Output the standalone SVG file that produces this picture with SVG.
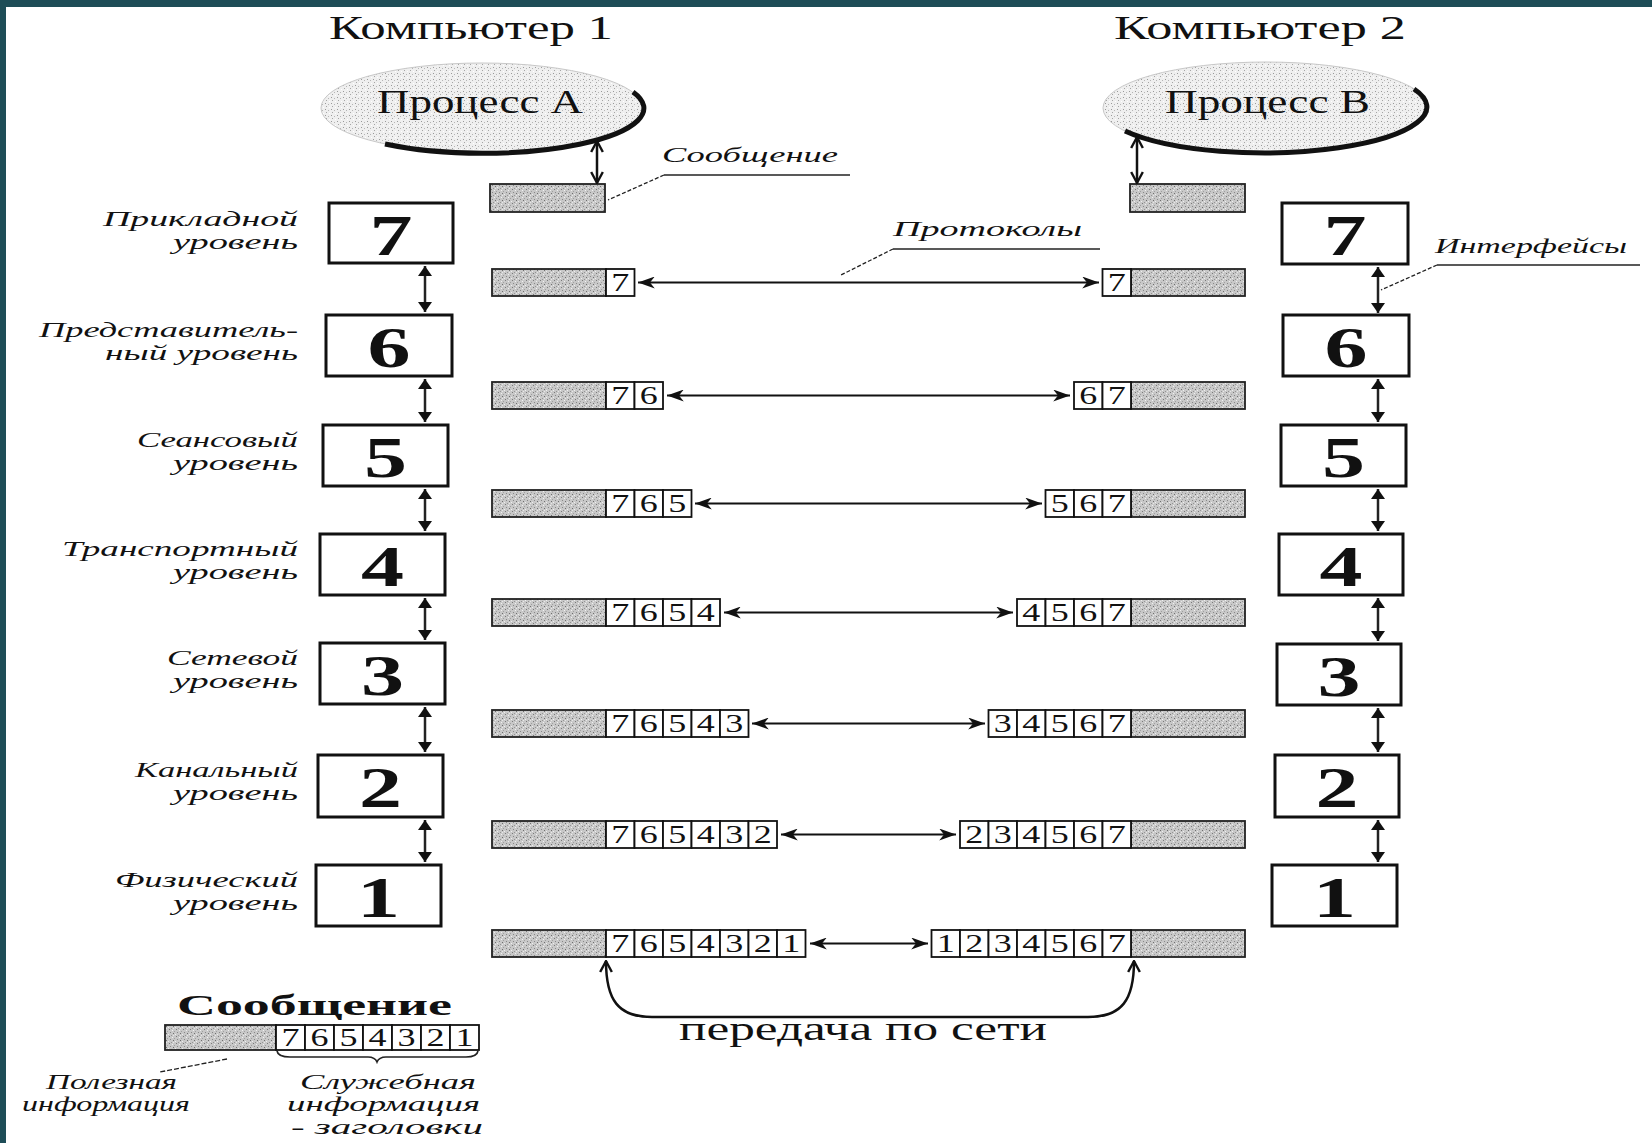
<svg xmlns="http://www.w3.org/2000/svg" width="1652" height="1143" viewBox="0 0 1652 1143">
<defs>
<pattern id="stip" width="7" height="7" patternUnits="userSpaceOnUse">
<rect width="7" height="7" fill="#c8c8c8"/>
<rect x="1" y="0" width="1" height="1" fill="#7a7a7a"/>
<rect x="4" y="1" width="1" height="1" fill="#f0f0f0"/>
<rect x="2" y="3" width="1" height="1" fill="#888"/>
<rect x="5" y="4" width="1" height="1" fill="#6e6e6e"/>
<rect x="0" y="5" width="1" height="1" fill="#eee"/>
<rect x="3" y="6" width="1" height="1" fill="#959595"/>
<rect x="6" y="2" width="1" height="1" fill="#a0a0a0"/>
<rect x="5" y="6" width="1" height="1" fill="#e8e8e8"/>
</pattern>
<pattern id="stip2" width="6" height="6" patternUnits="userSpaceOnUse">
<rect width="6" height="6" fill="#efefef"/>
<rect x="1" y="1" width="1" height="1" fill="#9a9a9a"/>
<rect x="4" y="2" width="1" height="1" fill="#b5b5b5"/>
<rect x="2" y="4" width="1" height="1" fill="#a5a5a5"/>
<rect x="5" y="5" width="1" height="1" fill="#fff"/>
</pattern>
<marker id="ah" viewBox="0 0 14 10" markerWidth="17" markerHeight="12" refX="14" refY="5" orient="auto-start-reverse" markerUnits="userSpaceOnUse">
<path d="M0,0 L14,5 L0,10 L4,5 z" fill="#111"/>
</marker>
<marker id="vh" viewBox="0 0 10 10" markerWidth="10" markerHeight="14" refX="10" refY="5" orient="auto-start-reverse" markerUnits="userSpaceOnUse" preserveAspectRatio="none">
<path d="M0,0 L10,5 L0,10 z" fill="#111"/>
</marker>
<marker id="oh" viewBox="-1 -1 13 12" markerWidth="13" markerHeight="14" refX="11" refY="5" orient="auto-start-reverse" markerUnits="userSpaceOnUse" preserveAspectRatio="none">
<path d="M0,0 L11,5 L0,10" fill="none" stroke="#111" stroke-width="2"/>
</marker>
</defs>
<style>
.box{fill:#fff;stroke:#111;stroke-width:3}
.big{font-family:"Liberation Serif",serif;font-weight:bold;font-size:56px;fill:#111}
.lbl{font-family:"Liberation Serif",serif;font-style:italic;font-size:22px;fill:#111}
.title{font-family:"Liberation Serif",serif;font-size:33px;fill:#111}
.data{fill:url(#stip);stroke:#222;stroke-width:1.8}
.cell{fill:#fff;stroke:#111;stroke-width:1.8}
.cd{font-family:"Liberation Serif",serif;font-size:25px;fill:#111}
.proto{stroke:#111;stroke-width:2.2;fill:none;marker-start:url(#ah);marker-end:url(#ah)}
.ifc{stroke:#222;stroke-width:2.5;fill:none;marker-start:url(#vh);marker-end:url(#vh)}
.pa{stroke:#111;stroke-width:2.5;fill:none;marker-start:url(#oh);marker-end:url(#oh)}
.lead{stroke:#222;stroke-width:1.3;fill:none}
.ul{stroke:#222;stroke-width:1.6;fill:none}
</style>
<rect width="1652" height="1143" fill="#fff"/>
<rect x="0" y="0" width="1652" height="7" fill="#1e4d57"/>
<rect x="0" y="0" width="6" height="1143" fill="#1e4d57"/>

<g id="title1"><text class="title" x="329" y="39" textLength="284" lengthAdjust="spacingAndGlyphs">Компьютер 1</text></g>
<g id="title2"><text class="title" x="1114" y="39" textLength="292" lengthAdjust="spacingAndGlyphs">Компьютер 2</text></g>

<g id="processA">
<ellipse cx="482" cy="108" rx="161" ry="45" fill="url(#stip2)" stroke="#c8c8c8" stroke-width="1"/>
<path d="M633,92 A161,45 0 0 1 385,144" fill="none" stroke="#111" stroke-width="5"/>
<text class="title" x="377" y="113" font-size="32" textLength="206" lengthAdjust="spacingAndGlyphs">Процесс А</text>
</g>
<g id="processB">
<ellipse cx="1266" cy="108" rx="163" ry="46" fill="url(#stip2)" stroke="#c8c8c8" stroke-width="1"/>
<path d="M1414,89 A163,46 0 0 1 1125,131" fill="none" stroke="#111" stroke-width="5"/>
<text class="title" x="1165" y="113" font-size="32" textLength="205" lengthAdjust="spacingAndGlyphs">Процесс В</text>
</g>

<g id="msgA"><rect class="data" x="490" y="184" width="115" height="28"/></g>
<g id="msgB"><rect class="data" x="1130" y="184" width="115" height="28"/></g>

<g id="labelMessage">
<text class="lbl" x="662" y="162" textLength="176" lengthAdjust="spacingAndGlyphs">Сообщение</text>
<path class="ul" d="M664,175 L850,175"/>
<path class="lead" d="M664,175 L608,200" stroke-dasharray="4 2"/>
</g>
<g id="labelProtocols">
<text class="lbl" x="893" y="236" textLength="189" lengthAdjust="spacingAndGlyphs">Протоколы</text>
<path class="ul" d="M893,249 L1100,249"/>
<path class="lead" d="M893,249 L841,275" stroke-dasharray="4 2"/>
</g>
<g id="labelInterfaces">
<text class="lbl" x="1435" y="253" textLength="192" lengthAdjust="spacingAndGlyphs">Интерфейсы</text>
<path class="ul" d="M1437,265 L1640,265"/>
<path class="lead" d="M1437,265 L1381,290" stroke-dasharray="4 2"/>
</g>

<!-- left layer boxes -->
<g id="L7"><rect class="box" x="329" y="203" width="124" height="60"/><text class="big" x="369.5" y="255" textLength="43" lengthAdjust="spacingAndGlyphs">7</text>
<text class="lbl" x="103" y="226" textLength="195" lengthAdjust="spacingAndGlyphs">Прикладной</text><text class="lbl" x="173" y="249" textLength="125" lengthAdjust="spacingAndGlyphs">уровень</text></g>
<g id="L6"><rect class="box" x="326" y="315" width="126" height="61"/><text class="big" x="367.5" y="367" textLength="43" lengthAdjust="spacingAndGlyphs">6</text>
<text class="lbl" x="39" y="337" textLength="259" lengthAdjust="spacingAndGlyphs">Представитель-</text><text class="lbl" x="105" y="360" textLength="193" lengthAdjust="spacingAndGlyphs">ный уровень</text></g>
<g id="L5"><rect class="box" x="323" y="425" width="125" height="61"/><text class="big" x="364" y="477" textLength="43" lengthAdjust="spacingAndGlyphs">5</text>
<text class="lbl" x="137" y="447" textLength="161" lengthAdjust="spacingAndGlyphs">Сеансовый</text><text class="lbl" x="173" y="470" textLength="125" lengthAdjust="spacingAndGlyphs">уровень</text></g>
<g id="L4"><rect class="box" x="320" y="534" width="125" height="61"/><text class="big" x="361" y="586" textLength="43" lengthAdjust="spacingAndGlyphs">4</text>
<text class="lbl" x="62" y="556" textLength="236" lengthAdjust="spacingAndGlyphs">Транспортный</text><text class="lbl" x="173" y="579" textLength="125" lengthAdjust="spacingAndGlyphs">уровень</text></g>
<g id="L3"><rect class="box" x="320" y="643" width="125" height="61"/><text class="big" x="361" y="695" textLength="43" lengthAdjust="spacingAndGlyphs">3</text>
<text class="lbl" x="167" y="665" textLength="131" lengthAdjust="spacingAndGlyphs">Сетевой</text><text class="lbl" x="173" y="688" textLength="125" lengthAdjust="spacingAndGlyphs">уровень</text></g>
<g id="L2"><rect class="box" x="318" y="755" width="125" height="62"/><text class="big" x="359" y="807" textLength="43" lengthAdjust="spacingAndGlyphs">2</text>
<text class="lbl" x="135" y="777" textLength="163" lengthAdjust="spacingAndGlyphs">Канальный</text><text class="lbl" x="173" y="800" textLength="125" lengthAdjust="spacingAndGlyphs">уровень</text></g>
<g id="L1"><rect class="box" x="316" y="865" width="125" height="61"/><text class="big" x="357" y="917" textLength="43" lengthAdjust="spacingAndGlyphs">1</text>
<text class="lbl" x="115" y="887" textLength="183" lengthAdjust="spacingAndGlyphs">Физический</text><text class="lbl" x="173" y="910" textLength="125" lengthAdjust="spacingAndGlyphs">уровень</text></g>

<!-- right layer boxes -->
<g id="R7"><rect class="box" x="1282" y="203" width="126" height="61"/><text class="big" x="1323.5" y="255" textLength="43" lengthAdjust="spacingAndGlyphs">7</text></g>
<g id="R6"><rect class="box" x="1283" y="315" width="126" height="61"/><text class="big" x="1324.5" y="367" textLength="43" lengthAdjust="spacingAndGlyphs">6</text></g>
<g id="R5"><rect class="box" x="1281" y="425" width="125" height="61"/><text class="big" x="1322" y="477" textLength="43" lengthAdjust="spacingAndGlyphs">5</text></g>
<g id="R4"><rect class="box" x="1279" y="534" width="124" height="61"/><text class="big" x="1319.5" y="586" textLength="43" lengthAdjust="spacingAndGlyphs">4</text></g>
<g id="R3"><rect class="box" x="1277" y="644" width="124" height="61"/><text class="big" x="1317.5" y="696" textLength="43" lengthAdjust="spacingAndGlyphs">3</text></g>
<g id="R2"><rect class="box" x="1275" y="755" width="124" height="62"/><text class="big" x="1315.5" y="807" textLength="43" lengthAdjust="spacingAndGlyphs">2</text></g>
<g id="R1"><rect class="box" x="1272" y="865" width="125" height="61"/><text class="big" x="1313" y="917" textLength="43" lengthAdjust="spacingAndGlyphs">1</text></g>

<!-- packets left -->
<g id="pL7"><rect class="data" x="492" y="269" width="114" height="27"/>
<rect class="cell" x="606" y="269" width="28.5" height="27"/><text class="cd" x="611.25" y="291" textLength="18" lengthAdjust="spacingAndGlyphs">7</text></g>
<g id="pL6"><rect class="data" x="492" y="382" width="114" height="27"/>
<rect class="cell" x="606" y="382" width="28.5" height="27"/><text class="cd" x="611.25" y="404" textLength="18" lengthAdjust="spacingAndGlyphs">7</text>
<rect class="cell" x="634.5" y="382" width="28.5" height="27"/><text class="cd" x="639.75" y="404" textLength="18" lengthAdjust="spacingAndGlyphs">6</text></g>
<g id="pL5"><rect class="data" x="492" y="490" width="114" height="27"/>
<rect class="cell" x="606" y="490" width="28.5" height="27"/><text class="cd" x="611.25" y="512" textLength="18" lengthAdjust="spacingAndGlyphs">7</text>
<rect class="cell" x="634.5" y="490" width="28.5" height="27"/><text class="cd" x="639.75" y="512" textLength="18" lengthAdjust="spacingAndGlyphs">6</text>
<rect class="cell" x="663" y="490" width="28.5" height="27"/><text class="cd" x="668.25" y="512" textLength="18" lengthAdjust="spacingAndGlyphs">5</text></g>
<g id="pL4"><rect class="data" x="492" y="599" width="114" height="27"/>
<rect class="cell" x="606" y="599" width="28.5" height="27"/><text class="cd" x="611.25" y="621" textLength="18" lengthAdjust="spacingAndGlyphs">7</text>
<rect class="cell" x="634.5" y="599" width="28.5" height="27"/><text class="cd" x="639.75" y="621" textLength="18" lengthAdjust="spacingAndGlyphs">6</text>
<rect class="cell" x="663" y="599" width="28.5" height="27"/><text class="cd" x="668.25" y="621" textLength="18" lengthAdjust="spacingAndGlyphs">5</text>
<rect class="cell" x="691.5" y="599" width="28.5" height="27"/><text class="cd" x="696.75" y="621" textLength="18" lengthAdjust="spacingAndGlyphs">4</text></g>
<g id="pL3"><rect class="data" x="492" y="710" width="114" height="27"/>
<rect class="cell" x="606" y="710" width="28.5" height="27"/><text class="cd" x="611.25" y="732" textLength="18" lengthAdjust="spacingAndGlyphs">7</text>
<rect class="cell" x="634.5" y="710" width="28.5" height="27"/><text class="cd" x="639.75" y="732" textLength="18" lengthAdjust="spacingAndGlyphs">6</text>
<rect class="cell" x="663" y="710" width="28.5" height="27"/><text class="cd" x="668.25" y="732" textLength="18" lengthAdjust="spacingAndGlyphs">5</text>
<rect class="cell" x="691.5" y="710" width="28.5" height="27"/><text class="cd" x="696.75" y="732" textLength="18" lengthAdjust="spacingAndGlyphs">4</text>
<rect class="cell" x="720" y="710" width="28.5" height="27"/><text class="cd" x="725.25" y="732" textLength="18" lengthAdjust="spacingAndGlyphs">3</text></g>
<g id="pL2"><rect class="data" x="492" y="821" width="114" height="27"/>
<rect class="cell" x="606" y="821" width="28.5" height="27"/><text class="cd" x="611.25" y="843" textLength="18" lengthAdjust="spacingAndGlyphs">7</text>
<rect class="cell" x="634.5" y="821" width="28.5" height="27"/><text class="cd" x="639.75" y="843" textLength="18" lengthAdjust="spacingAndGlyphs">6</text>
<rect class="cell" x="663" y="821" width="28.5" height="27"/><text class="cd" x="668.25" y="843" textLength="18" lengthAdjust="spacingAndGlyphs">5</text>
<rect class="cell" x="691.5" y="821" width="28.5" height="27"/><text class="cd" x="696.75" y="843" textLength="18" lengthAdjust="spacingAndGlyphs">4</text>
<rect class="cell" x="720" y="821" width="28.5" height="27"/><text class="cd" x="725.25" y="843" textLength="18" lengthAdjust="spacingAndGlyphs">3</text>
<rect class="cell" x="748.5" y="821" width="28.5" height="27"/><text class="cd" x="753.75" y="843" textLength="18" lengthAdjust="spacingAndGlyphs">2</text></g>
<g id="pL1"><rect class="data" x="492" y="930" width="114" height="27"/>
<rect class="cell" x="606" y="930" width="28.5" height="27"/><text class="cd" x="611.25" y="952" textLength="18" lengthAdjust="spacingAndGlyphs">7</text>
<rect class="cell" x="634.5" y="930" width="28.5" height="27"/><text class="cd" x="639.75" y="952" textLength="18" lengthAdjust="spacingAndGlyphs">6</text>
<rect class="cell" x="663" y="930" width="28.5" height="27"/><text class="cd" x="668.25" y="952" textLength="18" lengthAdjust="spacingAndGlyphs">5</text>
<rect class="cell" x="691.5" y="930" width="28.5" height="27"/><text class="cd" x="696.75" y="952" textLength="18" lengthAdjust="spacingAndGlyphs">4</text>
<rect class="cell" x="720" y="930" width="28.5" height="27"/><text class="cd" x="725.25" y="952" textLength="18" lengthAdjust="spacingAndGlyphs">3</text>
<rect class="cell" x="748.5" y="930" width="28.5" height="27"/><text class="cd" x="753.75" y="952" textLength="18" lengthAdjust="spacingAndGlyphs">2</text>
<rect class="cell" x="777" y="930" width="28.5" height="27"/><text class="cd" x="782.25" y="952" textLength="18" lengthAdjust="spacingAndGlyphs">1</text></g>

<!-- packets right -->
<g id="pR7"><rect class="data" x="1131" y="269" width="114" height="27"/>
<rect class="cell" x="1102.5" y="269" width="28.5" height="27"/><text class="cd" x="1107.75" y="291" textLength="18" lengthAdjust="spacingAndGlyphs">7</text></g>
<g id="pR6"><rect class="data" x="1131" y="382" width="114" height="27"/>
<rect class="cell" x="1074" y="382" width="28.5" height="27"/><text class="cd" x="1079.25" y="404" textLength="18" lengthAdjust="spacingAndGlyphs">6</text>
<rect class="cell" x="1102.5" y="382" width="28.5" height="27"/><text class="cd" x="1107.75" y="404" textLength="18" lengthAdjust="spacingAndGlyphs">7</text></g>
<g id="pR5"><rect class="data" x="1131" y="490" width="114" height="27"/>
<rect class="cell" x="1045.5" y="490" width="28.5" height="27"/><text class="cd" x="1050.75" y="512" textLength="18" lengthAdjust="spacingAndGlyphs">5</text>
<rect class="cell" x="1074" y="490" width="28.5" height="27"/><text class="cd" x="1079.25" y="512" textLength="18" lengthAdjust="spacingAndGlyphs">6</text>
<rect class="cell" x="1102.5" y="490" width="28.5" height="27"/><text class="cd" x="1107.75" y="512" textLength="18" lengthAdjust="spacingAndGlyphs">7</text></g>
<g id="pR4"><rect class="data" x="1131" y="599" width="114" height="27"/>
<rect class="cell" x="1017" y="599" width="28.5" height="27"/><text class="cd" x="1022.25" y="621" textLength="18" lengthAdjust="spacingAndGlyphs">4</text>
<rect class="cell" x="1045.5" y="599" width="28.5" height="27"/><text class="cd" x="1050.75" y="621" textLength="18" lengthAdjust="spacingAndGlyphs">5</text>
<rect class="cell" x="1074" y="599" width="28.5" height="27"/><text class="cd" x="1079.25" y="621" textLength="18" lengthAdjust="spacingAndGlyphs">6</text>
<rect class="cell" x="1102.5" y="599" width="28.5" height="27"/><text class="cd" x="1107.75" y="621" textLength="18" lengthAdjust="spacingAndGlyphs">7</text></g>
<g id="pR3"><rect class="data" x="1131" y="710" width="114" height="27"/>
<rect class="cell" x="988.5" y="710" width="28.5" height="27"/><text class="cd" x="993.75" y="732" textLength="18" lengthAdjust="spacingAndGlyphs">3</text>
<rect class="cell" x="1017" y="710" width="28.5" height="27"/><text class="cd" x="1022.25" y="732" textLength="18" lengthAdjust="spacingAndGlyphs">4</text>
<rect class="cell" x="1045.5" y="710" width="28.5" height="27"/><text class="cd" x="1050.75" y="732" textLength="18" lengthAdjust="spacingAndGlyphs">5</text>
<rect class="cell" x="1074" y="710" width="28.5" height="27"/><text class="cd" x="1079.25" y="732" textLength="18" lengthAdjust="spacingAndGlyphs">6</text>
<rect class="cell" x="1102.5" y="710" width="28.5" height="27"/><text class="cd" x="1107.75" y="732" textLength="18" lengthAdjust="spacingAndGlyphs">7</text></g>
<g id="pR2"><rect class="data" x="1131" y="821" width="114" height="27"/>
<rect class="cell" x="960" y="821" width="28.5" height="27"/><text class="cd" x="965.25" y="843" textLength="18" lengthAdjust="spacingAndGlyphs">2</text>
<rect class="cell" x="988.5" y="821" width="28.5" height="27"/><text class="cd" x="993.75" y="843" textLength="18" lengthAdjust="spacingAndGlyphs">3</text>
<rect class="cell" x="1017" y="821" width="28.5" height="27"/><text class="cd" x="1022.25" y="843" textLength="18" lengthAdjust="spacingAndGlyphs">4</text>
<rect class="cell" x="1045.5" y="821" width="28.5" height="27"/><text class="cd" x="1050.75" y="843" textLength="18" lengthAdjust="spacingAndGlyphs">5</text>
<rect class="cell" x="1074" y="821" width="28.5" height="27"/><text class="cd" x="1079.25" y="843" textLength="18" lengthAdjust="spacingAndGlyphs">6</text>
<rect class="cell" x="1102.5" y="821" width="28.5" height="27"/><text class="cd" x="1107.75" y="843" textLength="18" lengthAdjust="spacingAndGlyphs">7</text></g>
<g id="pR1"><rect class="data" x="1131" y="930" width="114" height="27"/>
<rect class="cell" x="931.5" y="930" width="28.5" height="27"/><text class="cd" x="936.75" y="952" textLength="18" lengthAdjust="spacingAndGlyphs">1</text>
<rect class="cell" x="960" y="930" width="28.5" height="27"/><text class="cd" x="965.25" y="952" textLength="18" lengthAdjust="spacingAndGlyphs">2</text>
<rect class="cell" x="988.5" y="930" width="28.5" height="27"/><text class="cd" x="993.75" y="952" textLength="18" lengthAdjust="spacingAndGlyphs">3</text>
<rect class="cell" x="1017" y="930" width="28.5" height="27"/><text class="cd" x="1022.25" y="952" textLength="18" lengthAdjust="spacingAndGlyphs">4</text>
<rect class="cell" x="1045.5" y="930" width="28.5" height="27"/><text class="cd" x="1050.75" y="952" textLength="18" lengthAdjust="spacingAndGlyphs">5</text>
<rect class="cell" x="1074" y="930" width="28.5" height="27"/><text class="cd" x="1079.25" y="952" textLength="18" lengthAdjust="spacingAndGlyphs">6</text>
<rect class="cell" x="1102.5" y="930" width="28.5" height="27"/><text class="cd" x="1107.75" y="952" textLength="18" lengthAdjust="spacingAndGlyphs">7</text></g>

<g id="transferLabel"><text class="title" x="679" y="1040" font-size="32" textLength="368" lengthAdjust="spacingAndGlyphs">передача по сети</text></g>

<!-- legend -->
<g id="legend">
<text x="177" y="1015" font-family="Liberation Serif, serif" font-weight="bold" font-size="29" fill="#111" textLength="275" lengthAdjust="spacingAndGlyphs">Сообщение</text>
<rect class="data" x="165" y="1025" width="111" height="25"/>
<rect class="cell" x="276" y="1025" width="29" height="25"/><text class="cd" x="281.5" y="1046" font-size="24" textLength="18" lengthAdjust="spacingAndGlyphs">7</text>
<rect class="cell" x="305" y="1025" width="29" height="25"/><text class="cd" x="310.5" y="1046" font-size="24" textLength="18" lengthAdjust="spacingAndGlyphs">6</text>
<rect class="cell" x="334" y="1025" width="29" height="25"/><text class="cd" x="339.5" y="1046" font-size="24" textLength="18" lengthAdjust="spacingAndGlyphs">5</text>
<rect class="cell" x="363" y="1025" width="29" height="25"/><text class="cd" x="368.5" y="1046" font-size="24" textLength="18" lengthAdjust="spacingAndGlyphs">4</text>
<rect class="cell" x="392" y="1025" width="29" height="25"/><text class="cd" x="397.5" y="1046" font-size="24" textLength="18" lengthAdjust="spacingAndGlyphs">3</text>
<rect class="cell" x="421" y="1025" width="29" height="25"/><text class="cd" x="426.5" y="1046" font-size="24" textLength="18" lengthAdjust="spacingAndGlyphs">2</text>
<rect class="cell" x="450" y="1025" width="29" height="25"/><text class="cd" x="455.5" y="1046" font-size="24" textLength="18" lengthAdjust="spacingAndGlyphs">1</text>
<path d="M277,1051 Q278,1057 290,1057 L368,1057 Q375,1057 377,1062 Q379,1057 386,1057 L466,1057 Q477,1057 478,1051" fill="none" stroke="#222" stroke-width="1.6"/>
<path class="lead" d="M227,1059 L160,1072" stroke-dasharray="5 2"/>
<text class="lbl" x="46" y="1089" textLength="131" lengthAdjust="spacingAndGlyphs">Полезная</text>
<text class="lbl" x="22" y="1111" textLength="168" lengthAdjust="spacingAndGlyphs">информация</text>
<text class="lbl" x="300" y="1089" textLength="176" lengthAdjust="spacingAndGlyphs">Служебная</text>
<text class="lbl" x="287" y="1111" textLength="193" lengthAdjust="spacingAndGlyphs">информация</text>
<text class="lbl" x="291" y="1134" textLength="192" lengthAdjust="spacingAndGlyphs">- заголовки</text>
</g>

<g id="connectors">
<path class="pa" d="M597,141 L597,183"/>
<path class="pa" d="M1137,137 L1137,183"/>
<path class="ifc" d="M425,266 L425,312"/>
<path class="ifc" d="M425,379 L425,422"/>
<path class="ifc" d="M425,489 L425,531"/>
<path class="ifc" d="M425,598 L425,640"/>
<path class="ifc" d="M425,707 L425,752"/>
<path class="ifc" d="M425,820 L425,862"/>
<path class="ifc" d="M1378,267 L1378,313"/>
<path class="ifc" d="M1378,379 L1378,422"/>
<path class="ifc" d="M1378,489 L1378,531"/>
<path class="ifc" d="M1378,598 L1378,641"/>
<path class="ifc" d="M1378,708 L1378,752"/>
<path class="ifc" d="M1378,820 L1378,862"/>
<path class="proto" d="M638,282.5 L1099,282.5"/>
<path class="proto" d="M667,395.5 L1070,395.5"/>
<path class="proto" d="M695,503.5 L1042,503.5"/>
<path class="proto" d="M724,612.5 L1013,612.5"/>
<path class="proto" d="M752,723.5 L985,723.5"/>
<path class="proto" d="M781,834.5 L956,834.5"/>
<path class="proto" d="M810,943.5 L928,943.5"/>
<path d="M606,961 C606,1000 618,1017 652,1017 L1088,1017 C1122,1017 1134,1000 1134,961" fill="none" stroke="#111" stroke-width="2.5" marker-start="url(#oh)" marker-end="url(#oh)"/>
</g>
</svg>
